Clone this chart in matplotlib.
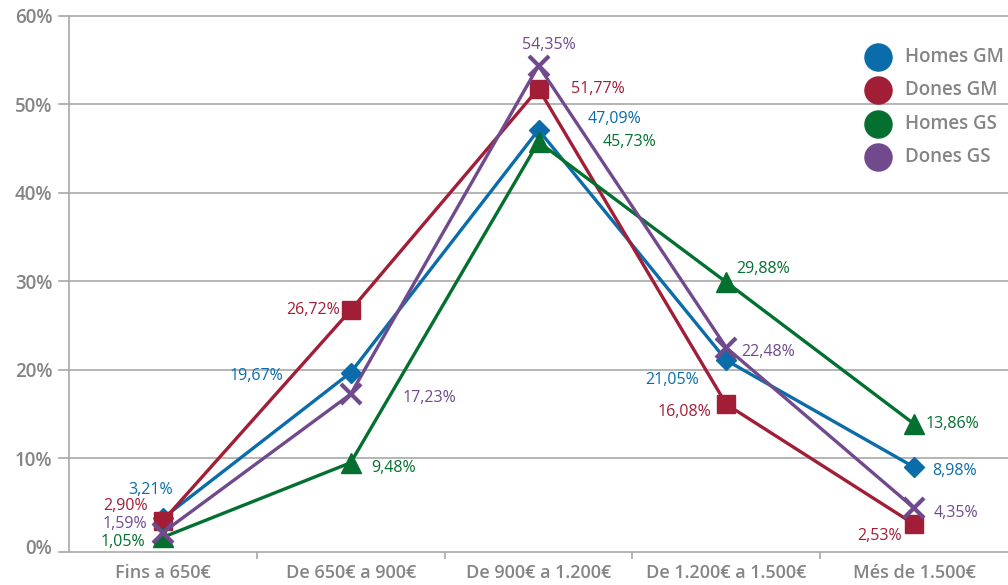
import matplotlib
matplotlib.use("Agg")
import matplotlib.pyplot as plt
from matplotlib.lines import Line2D

plt.rcParams['font.family'] = ['Open Sans', 'DejaVu Sans']

categories = ["Fins a 650€", "De 650€ a 900€", "De 900€ a 1.200€",
              "De 1.200€ a 1.500€", "Més de 1.500€"]
series_names = ["Homes GM", "Dones GM", "Homes GS", "Dones GS"]
homes_gm = [3.21, 19.67, 47.09, 21.05, 8.98]
dones_gm = [2.90, 26.72, 51.77, 16.08, 2.53]
homes_gs = [1.05, 9.48, 45.73, 29.88, 13.86]
dones_gs = [1.59, 17.23, 54.35, 22.48, 4.35]
y_ticks = [0, 10, 20, 30, 40, 50, 60]

colors = ["#0A6DAA", "#A21D36", "#03702F", "#704A8D"]
markers = ["D", "s", "^", "x"]
msizes = [10.5, 13, 14, 15]
GRAY = "#858585"
GRID = "#a8a8a8"

# label offsets in pixels (dx, dy) and horizontal alignment, per series/category
label_pos = {
    0: [(10, 28, 'right'), (-67, -3, 'right'), (49, 11, 'left'), (-27, -20, 'right'), (18, -4, 'left')],
    1: [(-15, 15, 'right'), (-11, 0, 'right'), (32, 0, 'left'), (-15, -8, 'right'), (-12, -12, 'right')],
    2: [(-18, -5, 'right'), (21, -5, 'left'), (64, 0, 'left'), (10, 13, 'left'), (11, 0, 'left')],
    3: [(-16, 9, 'right'), (52, -4, 'left'), (10, 21, 'center'), (15, -4, 'left'), (20, -5, 'left')],
}

fig = plt.figure(figsize=(10.08, 5.85), dpi=100)
ax = fig.add_axes([69 / 1008, 1 - 551.7 / 585, 1 - 69 / 1008, (551.7 - 15.7) / 585])

x = list(range(len(categories)))
all_series = [homes_gm, dones_gm, homes_gs, dones_gs]

ax.set_xlim(-0.5, len(categories) - 0.5)
ax.set_ylim(-0.58, 60)

for yv in y_ticks[1:]:
    ax.axhline(yv, color=GRID, lw=1.2, zorder=0, clip_on=False)

for i, vals in enumerate(all_series):
    mew = 3 if markers[i] == 'x' else 1
    ax.plot(x, vals, color=colors[i], lw=2.4, marker=markers[i], ms=msizes[i],
            mew=mew, mec=colors[i], mfc=colors[i], zorder=3 + i, clip_on=False)
    for j, v in enumerate(vals):
        dx, dy, ha = label_pos[i][j]
        ax.annotate(f"{v:.2f}%".replace('.', ','), (j, v), xytext=(dx, dy),
                    textcoords='offset pixels', ha=ha, va='center',
                    color=colors[i], fontsize=11.5, zorder=10)

# axes styling
for side in ['top', 'right']:
    ax.spines[side].set_visible(False)
ax.spines['left'].set_color(GRID)
ax.spines['left'].set_linewidth(1.2)
ax.spines['bottom'].set_color(GRID)
ax.spines['bottom'].set_linewidth(1.2)
ax.spines['bottom'].set_bounds(-0.5 - 10 / 188, len(categories) - 0.5)

ax.set_yticks(y_ticks)
ax.set_yticklabels([f"{t}%" for t in y_ticks], color=GRAY, fontsize=13.5,
                   fontweight='semibold')
ax.tick_params(axis='y', length=0, pad=12)
for t in y_ticks[1:]:
    ax.plot([-0.5 - 10 / 188, -0.5], [t, t], color=GRID, lw=1.2, clip_on=False)

ax.set_xticks([k + 0.5 for k in range(len(categories) - 1)], minor=True)
ax.set_xticks(x)
ax.set_xticklabels(categories, color=GRAY, fontsize=13, fontweight='semibold')
ax.tick_params(axis='x', which='major', length=0, pad=9)
ax.tick_params(axis='x', which='minor', length=5, width=1.2, color=GRID)

# legend
for i, name in enumerate(series_names):
    ypx = 57 + i * 33.3
    fig.add_artist(Line2D([878 / 1008], [1 - ypx / 585], marker='o', ms=19.5,
                          color=colors[i], transform=fig.transFigure))
    fig.text(905 / 1008, 1 - ypx / 585, name, color=GRAY, fontsize=13.5,
             fontweight='semibold', va='center', ha='left')

fig.savefig("out.png", dpi=100)
